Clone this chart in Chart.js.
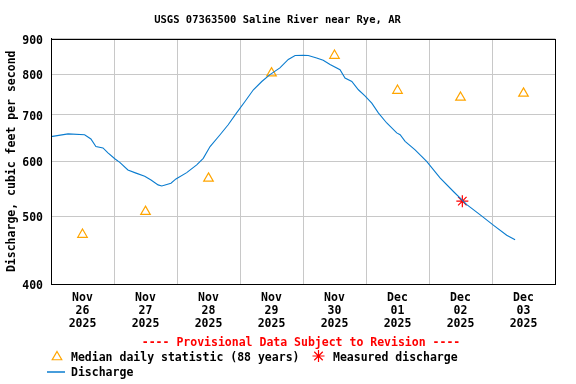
<!DOCTYPE html>
<html>
<head>
<meta charset="utf-8">
<script src="https://cdn.jsdelivr.net/npm/chart.js@4/dist/chart.umd.min.js"></script>
<style>
  body { margin: 0; background: #fff; }
</style>
</head>
<body>
<canvas id="chart" width="576" height="384"></canvas>
<script>
const flowHours = [0, 6.5, 12.8, 15.2, 17.1, 19.8, 21.7, 24.3, 26.2, 29.3, 32.4, 35.7, 38.1, 40.8, 42.2,
    45.7, 47.6, 51.7, 55.5, 58.0, 60.6, 64.4, 67.5, 70.7, 73.9, 77.1, 80.3, 83.4, 87.2, 90.4, 93.0,
    96.1, 98.0, 101.2, 103.7, 106.3, 110.1, 112.0, 114.6, 117.1, 119.6, 122.2, 124.7, 127.9, 131.7,
    133.0, 134.9, 138.7, 143.1, 148.2, 153.3, 158.4, 163.4, 168.5, 173.6, 176.8];
const flowValues = [651, 657, 655, 646, 630, 627, 617, 605, 598, 583, 577, 571, 564, 555, 553,
    558, 566, 578, 593, 606, 630, 655, 677, 704, 731, 760, 781, 799, 817, 840, 851,
    852, 851, 844, 838, 826, 812, 790, 781, 760, 745, 727, 704, 681, 659,
    655, 641, 623, 600, 568, 543, 520, 503, 486, 470, 463];

// median daily statistic, plotted at noon of each day
const medianHours = [12, 36, 60, 84, 108, 132, 156, 180];
const medianValues = [471, 508, 567, 803, 851, 758, 741, 751];

const measuredHours = [156.7];
const measuredValues = [526];

const dayLabels = [
    ['Nov', '26', '2025'], ['Nov', '27', '2025'], ['Nov', '28', '2025'], ['Nov', '29', '2025'],
    ['Nov', '30', '2025'], ['Dec', '01', '2025'], ['Dec', '02', '2025'], ['Dec', '03', '2025']
];
const yTicks = [400, 500, 600, 700, 800, 900];

const MONO = 'DejaVu Sans Mono';
const blue = '#0a7ccf';
const orange = '#ffa500';

function toPoints(xs, ys) {
    return xs.map((x, i) => ({ x: x, y: ys[i] }));
}

// frame around the plot plus the notes/legend under the axis
const extras = {
    id: 'extras',
    afterDraw(chart) {
        const ctx = chart.ctx;
        const a = chart.chartArea;
        ctx.save();
        ctx.strokeStyle = '#000';
        ctx.lineWidth = 1;
        ctx.strokeRect(Math.round(a.left) + 0.5, Math.round(a.top) + 0.5,
            Math.round(a.right - a.left), Math.round(a.bottom - a.top));

        ctx.font = 'bold 11.5px "' + MONO + '"';
        ctx.textBaseline = 'alphabetic';
        ctx.fillStyle = '#ff0000';
        ctx.textAlign = 'center';
        ctx.fillText('---- Provisional Data Subject to Revision ----', 301, 346);

        ctx.textAlign = 'left';
        ctx.fillStyle = '#000';
        ctx.fillText('Median daily statistic (88 years)', 71, 361);
        ctx.fillText('Measured discharge', 333, 361);
        ctx.fillText('Discharge', 71, 376);

        ctx.fillStyle = 'rgba(0,0,0,0)';
        ctx.strokeStyle = orange;
        ctx.lineWidth = 1.2;
        Chart.helpers.drawPoint(ctx, { pointStyle: 'triangle', radius: 5.5, rotation: 0, borderWidth: 1.2 }, 57, 357);
        ctx.strokeStyle = '#ff0000';
        Chart.helpers.drawPoint(ctx, { pointStyle: 'star', radius: 6, rotation: 0, borderWidth: 1.2 }, 318.5, 356);

        ctx.strokeStyle = blue;
        ctx.lineWidth = 1.5;
        ctx.beginPath();
        ctx.moveTo(47, 372);
        ctx.lineTo(65, 372);
        ctx.stroke();
        ctx.restore();
    }
};

const ctx = document.getElementById('chart').getContext('2d');
new Chart(ctx, {
    type: 'line',
    data: {
        datasets: [{
                label: 'Discharge',
                data: toPoints(flowHours, flowValues),
                borderColor: blue,
                borderWidth: 1.1,
                pointRadius: 0,
                fill: false,
                tension: 0
            },
            {
                label: 'Median daily statistic (88 years)',
                data: toPoints(medianHours, medianValues),
                showLine: false,
                pointStyle: 'triangle',
                pointRadius: 5.5,
                pointBorderWidth: 1.2,
                borderColor: orange,
                backgroundColor: 'rgba(0,0,0,0)'
            },
            {
                label: 'Measured discharge',
                data: toPoints(measuredHours, measuredValues),
                showLine: false,
                pointStyle: 'star',
                pointRadius: 6,
                pointBorderWidth: 1.2,
                borderColor: '#ff0000',
                backgroundColor: '#ff0000'
            }
        ]
    },
    options: {
        responsive: false,
        animation: false,
        events: [],
        layout: { padding: { left: 0, right: 21, top: 0, bottom: 53 } },
        plugins: {
            legend: { display: false },
            tooltip: { enabled: false },
            title: {
                display: true,
                text: 'USGS 07363500 Saline River near Rye, AR',
                color: '#000',
                font: { family: MONO, size: 10.5, weight: 'bold' },
                padding: { top: 14, bottom: 12 }
            }
        },
        scales: {
            x: {
                type: 'linear',
                min: 0,
                max: 192,
                afterFit: (s) => { s.height = 47; },
                grid: {
                    drawTicks: false,
                    color: (c) => (c.tick && c.tick.value % 24 === 0) ? '#c8c8c8' : 'rgba(0,0,0,0)'
                },
                border: { display: true, color: '#000' },
                ticks: {
                    stepSize: 12,
                    autoSkip: false,
                    maxRotation: 0,
                    padding: 8,
                    color: '#000',
                    font: { family: MONO, size: 11.5, weight: 'bold', lineHeight: 1.13 },
                    callback: (v) => (v % 24 === 12) ? dayLabels[(v - 12) / 24] : ''
                }
            },
            y: {
                type: 'logarithmic',
                min: 400,
                max: 900,
                afterFit: (s) => { s.width = 51; },
                afterBuildTicks: (s) => { s.ticks = yTicks.map(v => ({ value: v })); },
                grid: { drawTicks: false, color: '#c8c8c8' },
                border: { display: true, color: '#000' },
                ticks: {
                    padding: 8,
                    labelOffset: 2,
                    color: '#000',
                    font: { family: MONO, size: 11.5, weight: 'bold' },
                    callback: (v) => String(v)
                },
                title: {
                    display: true,
                    text: 'Discharge, cubic feet per second',
                    color: '#000',
                    font: { family: MONO, size: 11.5, weight: 'bold' },
                    padding: { top: 5, bottom: 0 }
                }
            }
        }
    },
    plugins: [extras]
});
</script>
</body>
</html>
